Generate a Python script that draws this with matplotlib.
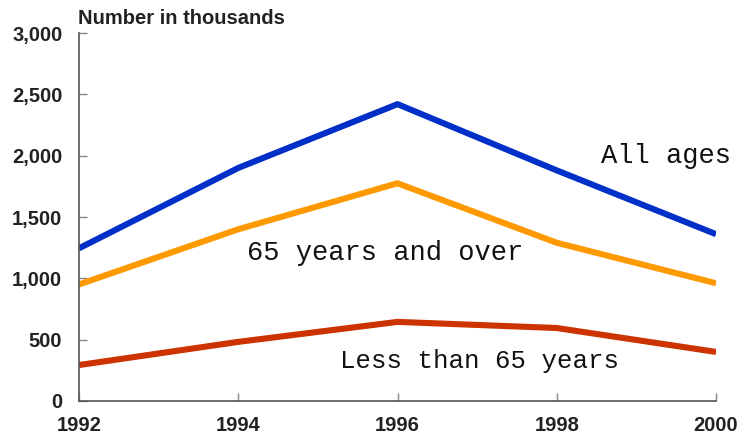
import matplotlib
matplotlib.use("Agg")
import matplotlib.pyplot as plt

years = [1992, 1994, 1996, 1998, 2000]
all_ages = [1245, 1900, 2420, 1880, 1360]
over_65 = [950, 1400, 1775, 1290, 960]
under_65 = [293, 482, 645, 595, 400]
yticks = [0, 500, 1000, 1500, 2000, 2500, 3000]
ytick_labels = ["0", "500", "1,000", "1,500", "2,000", "2,500", "3,000"]

fig = plt.figure(figsize=(7.38, 4.37), dpi=100)
ax = fig.add_axes([79/738, 1-401/437, (716-79)/738, (401-33)/437])

lw = 4.4
ax.plot(years, all_ages, color="#0030C8", lw=lw, solid_joinstyle="round", solid_capstyle="butt")
ax.plot(years, over_65, color="#FF9900", lw=lw, solid_joinstyle="round", solid_capstyle="butt")
ax.plot(years, under_65, color="#CC3300", lw=lw, solid_joinstyle="round", solid_capstyle="butt")

ax.set_xlim(1992, 2000)
ax.set_ylim(0, 3000)
ax.set_xticks(years)
ax.set_xticklabels([str(y) for y in years])
ax.set_yticks(yticks)
ax.set_yticklabels(ytick_labels)

for s in ["top", "right"]:
    ax.spines[s].set_visible(False)
for s in ["left", "bottom"]:
    ax.spines[s].set_color("#555555")
    ax.spines[s].set_linewidth(1.2)
ax.tick_params(direction="in", length=6, width=1, color="#888888", labelsize=14.5)
ax.tick_params(axis="x", pad=11)
ax.tick_params(axis="y", pad=12)
for lab in ax.get_xticklabels() + ax.get_yticklabels():
    lab.set_family("Liberation Sans")
    lab.set_fontweight("bold")
    lab.set_color("#222222")

mono = dict(family="Liberation Mono", color="#111111", va="center", ha="left")
ax.text(1998.55, 2000, "All ages", fontsize=19.5, **mono)
ax.text(1994.11, 1205, "65 years and over", fontsize=19.5, **mono)
ax.text(1995.28, 330, "Less than 65 years", fontsize=18.5, **mono)

fig.text(78/738, 1-18/437, "Number in thousands", family="Liberation Sans",
         fontweight="bold", fontsize=14.5, color="#222222", va="center", ha="left")

fig.savefig("out.png", dpi=100)
